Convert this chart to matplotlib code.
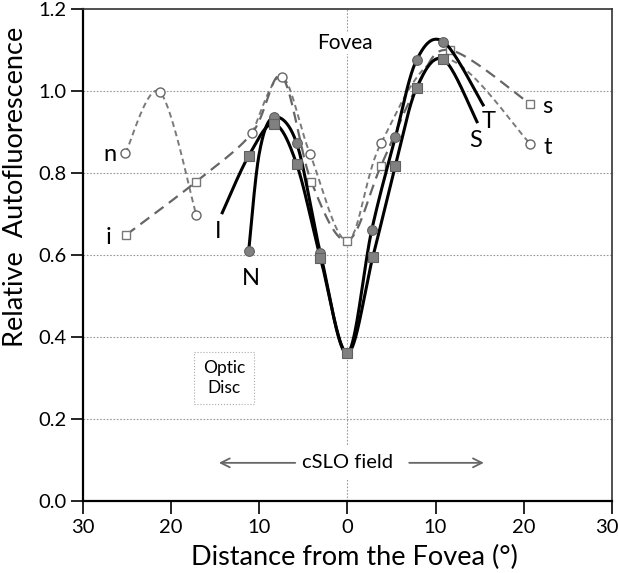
import numpy as np
import matplotlib
matplotlib.use("Agg")
import matplotlib.pyplot as plt
from matplotlib.ticker import FuncFormatter
from matplotlib.transforms import ScaledTranslation

plt.rcParams['font.family'] = ['Lato', 'DejaVu Sans']

# negative = nasal / inferior side, positive = temporal / superior side
# solid curves (filled markers); mask 0 = point on the curve without a marker
NT_x = [-11.2, -10.0, -8.35, -5.75, -3.06, 0.0, 2.76, 5.44, 7.86, 10.9, 15.4]
NT_y = [0.610, 0.848, 0.936, 0.872, 0.604, 0.360, 0.661, 0.887, 1.076, 1.120, 0.966]
NT_mark = [1, 0, 1, 1, 1, 0, 1, 1, 1, 1, 0]

IS_x = [-14.2, -11.2, -8.35, -5.75, -3.06, 0.0, 2.87, 5.44, 7.86, 10.9, 14.7]
IS_y = [0.703, 0.842, 0.920, 0.821, 0.593, 0.360, 0.594, 0.818, 1.008, 1.077, 0.925]
IS_mark = [0, 1, 1, 1, 1, 1, 1, 1, 1, 1, 0]

# dashed curves (open markers), nan = gap near the optic disc
nt_x = [-25.2, -21.3, -17.15, np.nan, -10.8, -7.45, -4.25, 0.0, 3.8, 10.9, 20.75]
nt_y = [0.848, 0.998, 0.698, np.nan, 0.898, 1.035, 0.847, 0.635, 0.872, 1.080, 0.871]
nt_mark = [1, 1, 1, 0, 1, 1, 1, 0, 1, 0, 1]

is_x = [-25.1, -17.15, -10.8, -7.45, -4.1, 0.0, 3.8, 7.86, 11.6, 20.75]
is_y = [0.649, 0.779, 0.898, 1.035, 0.779, 0.635, 0.817, 1.008, 1.100, 0.968]
is_mark = [1, 1, 0, 0, 1, 1, 1, 0, 1, 1]

y_ticks = [0.0, 0.2, 0.4, 0.6, 0.8, 1.0, 1.2]
x_ticks = [-30, -20, -10, 0, 10, 20, 30]


def catmull(xs, ys, n=40):
    # smooth line through the points, like a spreadsheet "smoothed line"
    P = np.column_stack([xs, ys])
    P = np.vstack([P[0], P, P[-1]])
    out = []
    t = np.linspace(0, 1, n)[:, None]
    for i in range(1, len(P) - 2):
        p0, p1, p2, p3 = P[i - 1], P[i], P[i + 1], P[i + 2]
        seg = 0.5 * (2 * p1 + (-p0 + p2) * t + (2 * p0 - 5 * p1 + 4 * p2 - p3) * t ** 2
                     + (-p0 + 3 * p1 - 3 * p2 + p3) * t ** 3)
        out.append(seg)
    out = np.vstack(out)
    return out[:, 0], out[:, 1]


def draw(ax, xs, ys, mask, line_kw, mark_kw):
    xs = np.asarray(xs, float)
    ys = np.asarray(ys, float)
    mask = np.asarray(mask, bool)
    # split at gaps
    idx = np.where(np.isnan(xs))[0]
    starts = [0] + list(idx + 1)
    ends = list(idx) + [len(xs)]
    for a, b in zip(starts, ends):
        sx, sy = catmull(xs[a:b], ys[a:b])
        ax.plot(sx, sy, **line_kw)
    ax.plot(xs[mask], ys[mask], linestyle='none', **mark_kw)


fig = plt.figure(figsize=(6.18, 5.73), dpi=100)
ax = fig.add_axes([0.1343, 0.1257, 0.8557, 0.8586])

ax.set_xlim(-30, 30)
ax.set_ylim(0, 1.2)

for yv in y_ticks[1:-1]:
    ax.axhline(yv, color='#999999', lw=0.8, ls=(0, (1.5, 1.5)), zorder=1)
ax.axvline(0, color='#999999', lw=0.8, ls=(0, (1.5, 1.5)), zorder=1)

# dashed meridians
draw(ax, nt_x, nt_y, nt_mark,
     dict(color='#7a7a7a', lw=1.4, ls=(0, (3, 2)), zorder=2),
     dict(marker='o', ms=6.5, mfc='white', mec='#666666', mew=1.0, zorder=3))
draw(ax, is_x, is_y, is_mark,
     dict(color='#666666', lw=1.6, ls=(0, (5, 3)), zorder=2),
     dict(marker='s', ms=5.5, mfc='white', mec='#777777', mew=1.0, zorder=3))

# solid meridians
draw(ax, NT_x, NT_y, NT_mark,
     dict(color='black', lw=2.2, zorder=4),
     dict(marker='o', ms=7, mfc='#808080', mec='#606060', mew=0.8, zorder=5))
draw(ax, IS_x, IS_y, IS_mark,
     dict(color='black', lw=2.2, zorder=4),
     dict(marker='s', ms=6.5, mfc='#808080', mec='#606060', mew=0.8, zorder=5))

lab = dict(fontsize=17, color='black', ha='center', va='center', zorder=6)
ax.text(-27.0, 0.844, 'n', **lab)
ax.text(-27.1, 0.642, 'i', **lab)
ax.text(-14.7, 0.657, 'I', **lab)
ax.text(-11.0, 0.543, 'N', **lab)
ax.text(14.6, 0.880, 'S', **lab)
ax.text(16.0, 0.925, 'T', **lab)
ax.text(22.7, 0.963, 's', **lab)
ax.text(22.7, 0.862, 't', **lab)

ax.text(-0.3, 1.117, 'Fovea', fontsize=15, ha='center', va='center',
        bbox=dict(facecolor='white', edgecolor='none', pad=1), zorder=6)
ax.text(-14.0, 0.30, 'Optic\nDisc', fontsize=12.5, ha='center', va='center',
        linespacing=1.3,
        bbox=dict(facecolor='white', edgecolor='#aaaaaa', ls=':', lw=0.8, pad=6),
        zorder=6)
ax.text(0.0, 0.093, 'cSLO field', fontsize=14.5, ha='center', va='center',
        bbox=dict(facecolor='white', edgecolor='none', pad=6), zorder=6)
arrow = dict(arrowstyle='->', color='#666666', lw=1.3, mutation_scale=16)
ax.annotate('', xy=(-14.9, 0.093), xytext=(-5.6, 0.093), arrowprops=arrow, zorder=7)
ax.annotate('', xy=(15.8, 0.093), xytext=(6.7, 0.093), arrowprops=arrow, zorder=7)

ax.set_xticks(x_ticks)
ax.set_yticks(y_ticks)
ax.xaxis.set_major_formatter(FuncFormatter(lambda v, p: f'{abs(v):.0f}'))
ax.yaxis.set_major_formatter(FuncFormatter(lambda v, p: f'{v:.1f}'))
ax.tick_params(axis='x', direction='out', length=9, width=1.2, labelsize=14.5, pad=4)
ax.tick_params(axis='y', direction='out', length=9, width=1.2, labelsize=14.5, pad=3)

for side in ['left', 'bottom']:
    ax.spines[side].set_linewidth(1.6)
    ax.spines[side].set_color('black')
for side in ['top', 'right']:
    ax.spines[side].set_linewidth(1.2)
    ax.spines[side].set_color('#333333')

ax.set_xlabel('Distance from the Fovea (°)', fontsize=19.5)
ax.xaxis.label.set_va('center')
ax.xaxis.set_label_coords(0.514, -0.114)
ax.set_ylabel('Relative  Autofluorescence', fontsize=19.5)
ax.yaxis.label.set_va('center')
ax.yaxis.set_label_coords(-0.128, 0.638)

# keep the last x tick label inside the figure, as in the original
fig.canvas.draw()
last = ax.get_xticklabels()[-1]
last.set_transform(last.get_transform() + ScaledTranslation(-5 / 100, 0, fig.dpi_scale_trans))

fig.savefig('out.png', dpi=100)
